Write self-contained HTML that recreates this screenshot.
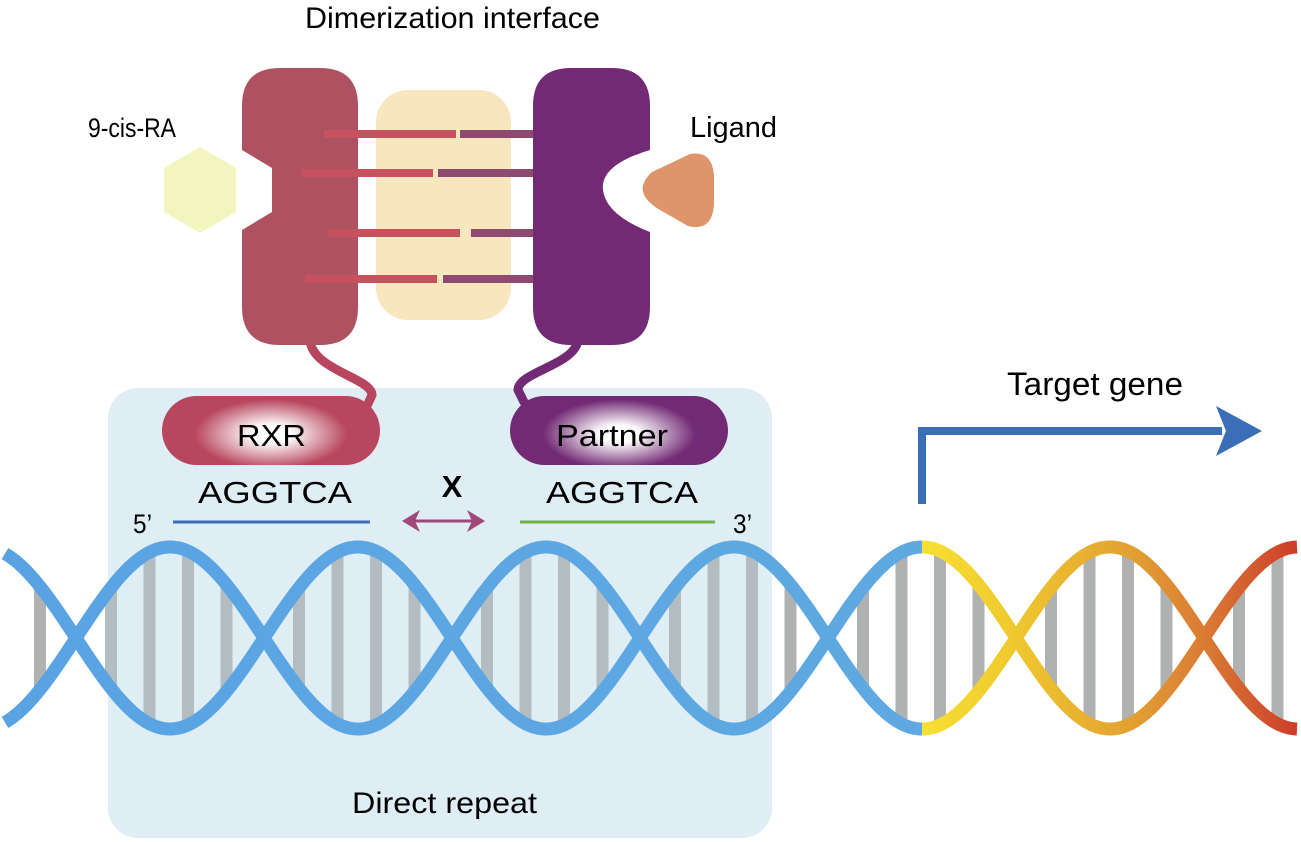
<!DOCTYPE html>
<html><head><meta charset="utf-8"><style>
html,body{margin:0;padding:0;background:#fff;}
svg{display:block;font-family:"Liberation Sans",Arial,sans-serif;}
</style></head><body>
<svg id="s" width="1301" height="842" viewBox="0 0 1301 842" xmlns="http://www.w3.org/2000/svg">
<defs>
<linearGradient id="sg" gradientUnits="userSpaceOnUse" x1="0" y1="0" x2="1301" y2="0">
<stop offset="0" stop-color="#5aa3e3"/>
<stop offset="0.7086" stop-color="#5fa9e2"/>
<stop offset="0.7087" stop-color="#f7e032"/>
<stop offset="0.78" stop-color="#efc82e"/>
<stop offset="0.87" stop-color="#e2a032"/>
<stop offset="0.93" stop-color="#d97834"/>
<stop offset="1" stop-color="#cc3a2a"/>
</linearGradient>
<radialGradient id="rg" cx="0.5" cy="0.55" r="0.5" gradientTransform="translate(0.15,0) scale(0.7,1)">
<stop offset="0" stop-color="#fff"/><stop offset="0.25" stop-color="#fff"/>
<stop offset="1" stop-color="#b8465e"/></radialGradient>
<radialGradient id="pg" cx="0.5" cy="0.55" r="0.5" gradientTransform="translate(0.15,0) scale(0.7,1)">
<stop offset="0" stop-color="#fff"/><stop offset="0.25" stop-color="#fff"/>
<stop offset="1" stop-color="#722a74"/></radialGradient>
</defs>
<rect x="108" y="388" width="664" height="450" rx="30" fill="#dfeef5"/>
<g id="dna"></g>

<path d="M310 340 C312 370 372 378 372 395 L366 408" fill="none" stroke="#b8465e" stroke-width="9" stroke-linecap="round"/>
<path d="M578 340 C575 365 518 372 518 390 L524 402" fill="none" stroke="#722a74" stroke-width="9" stroke-linecap="round"/>
<path d="M280 68 L320 68 Q358 68 358 106 L358 307 Q358 345 320 345 L280 345 Q242 345 242 307 L242 230 L272 212 L272 168 L242 150 L242 106 Q242 68 280 68 Z" fill="#ae5262"/>
<path d="M571 68 L612 68 Q650 68 650 106 L650 150 Q600 165 603 190 Q606 215 650 232 L650 307 Q650 345 612 345 L571 345 Q533 345 533 307 L533 106 Q533 68 571 68 Z" fill="#722a74"/>
<rect x="376" y="90" width="135" height="230" rx="32" fill="#f7e6be"/>
<g stroke-width="8">
<line x1="324" y1="134" x2="456" y2="134" stroke="#c5525e"/><line x1="460" y1="134" x2="533" y2="134" stroke="#8f4a72"/>
<line x1="301" y1="173" x2="433" y2="173" stroke="#c5525e"/><line x1="438" y1="173" x2="533" y2="173" stroke="#8f4a72"/>
<line x1="328" y1="233" x2="460" y2="233" stroke="#c5525e"/><line x1="471" y1="233" x2="533" y2="233" stroke="#8f4a72"/>
<line x1="305" y1="279" x2="437" y2="279" stroke="#c5525e"/><line x1="443" y1="279" x2="533" y2="279" stroke="#8f4a72"/>
</g>
<polygon points="200,147 236,168 236,212 200,233 164,212 164,168" fill="#f3f5be"/>
<path d="M690 154 Q712 150 714 175 L714 205 Q712 232 688 226 L660 210 Q630 192 652 172 Z" fill="#df956a"/>
<rect x="162" y="396" width="218" height="69" rx="34.5" fill="url(#rg)"/>
<rect x="510" y="396" width="218" height="69" rx="34.5" fill="url(#pg)"/>
<text x="237" y="446" font-size="31" textLength="69" lengthAdjust="spacingAndGlyphs">RXR</text>
<text x="556" y="446" font-size="31" textLength="112" lengthAdjust="spacingAndGlyphs">Partner</text>

<text x="305" y="28" font-size="30" textLength="295" lengthAdjust="spacingAndGlyphs">Dimerization interface</text>
<text x="88" y="137" font-size="27" textLength="88" lengthAdjust="spacingAndGlyphs">9-cis-RA</text>
<text x="690" y="137" font-size="29" textLength="87" lengthAdjust="spacingAndGlyphs">Ligand</text>
<text x="198" y="503" font-size="31" textLength="154" lengthAdjust="spacingAndGlyphs">AGGTCA</text>
<text x="546" y="503" font-size="31" textLength="152" lengthAdjust="spacingAndGlyphs">AGGTCA</text>
<text x="452" y="497" font-size="31" font-weight="bold" text-anchor="middle">X</text>
<line x1="412" y1="521" x2="474" y2="521" stroke="#a0487a" stroke-width="3"/>
<polygon points="402,521 420,510 415,521 420,532" fill="#a0487a"/>
<polygon points="485,521 467,510 472,521 467,532" fill="#a0487a"/>
<line x1="173" y1="522" x2="370" y2="522" stroke="#3a6fb8" stroke-width="3"/>
<line x1="520" y1="522" x2="715" y2="522" stroke="#74b048" stroke-width="3"/>
<text x="133" y="533" font-size="27" textLength="19" lengthAdjust="spacingAndGlyphs">5’</text>
<text x="733" y="533" font-size="27" textLength="19" lengthAdjust="spacingAndGlyphs">3’</text>
<text x="352" y="813" font-size="30" textLength="185" lengthAdjust="spacingAndGlyphs">Direct repeat</text>
<text x="1007" y="395" font-size="32" textLength="176" lengthAdjust="spacingAndGlyphs">Target gene</text>
<path d="M922 504 L922 431 L1222 431" fill="none" stroke="#3a6fb8" stroke-width="8"/>
<polygon points="1216,406 1262,431 1216,456 1226,431" fill="#3a6fb8"/>
</svg>
<script>
(function(){
var g=document.getElementById('dna');
var cy=638,A=91,P=188,x0=5,x1=1298;
function ya(x){return cy-A*Math.cos(Math.PI*(x-170)/P);}
function yb(x){return cy+A*Math.cos(Math.PI*(x-170)/P);}
var h='';
var crosses=[];for(var c=76;c<1400;c+=P)crosses.push(c);
var bars=[40];
crosses.forEach(function(c){for(var k=0;k<4;k++){var x=c+35+k*38.5;if(x<1292)bars.push(x);}});
bars.forEach(function(x){var a=ya(x),b=yb(x);var t=Math.min(a,b),bt=Math.max(a,b);
h+='<rect x="'+(x-6)+'" y="'+t+'" width="12" height="'+(bt-t)+'" fill="'+(x>108&&x<772?'#b3bcc0':'#b0b1b1')+'"/>';});
function path(f){var d='';for(var x=x0;x<=x1;x+=2){d+=(x==x0?'M':'L')+x+' '+f(x).toFixed(1);}return d;}
h+='<path d="'+path(ya)+'" fill="none" stroke="url(#sg)" stroke-width="13"/>';
h+='<path d="'+path(yb)+'" fill="none" stroke="url(#sg)" stroke-width="13"/>';
g.innerHTML=h;
})();
</script>
</body></html>
